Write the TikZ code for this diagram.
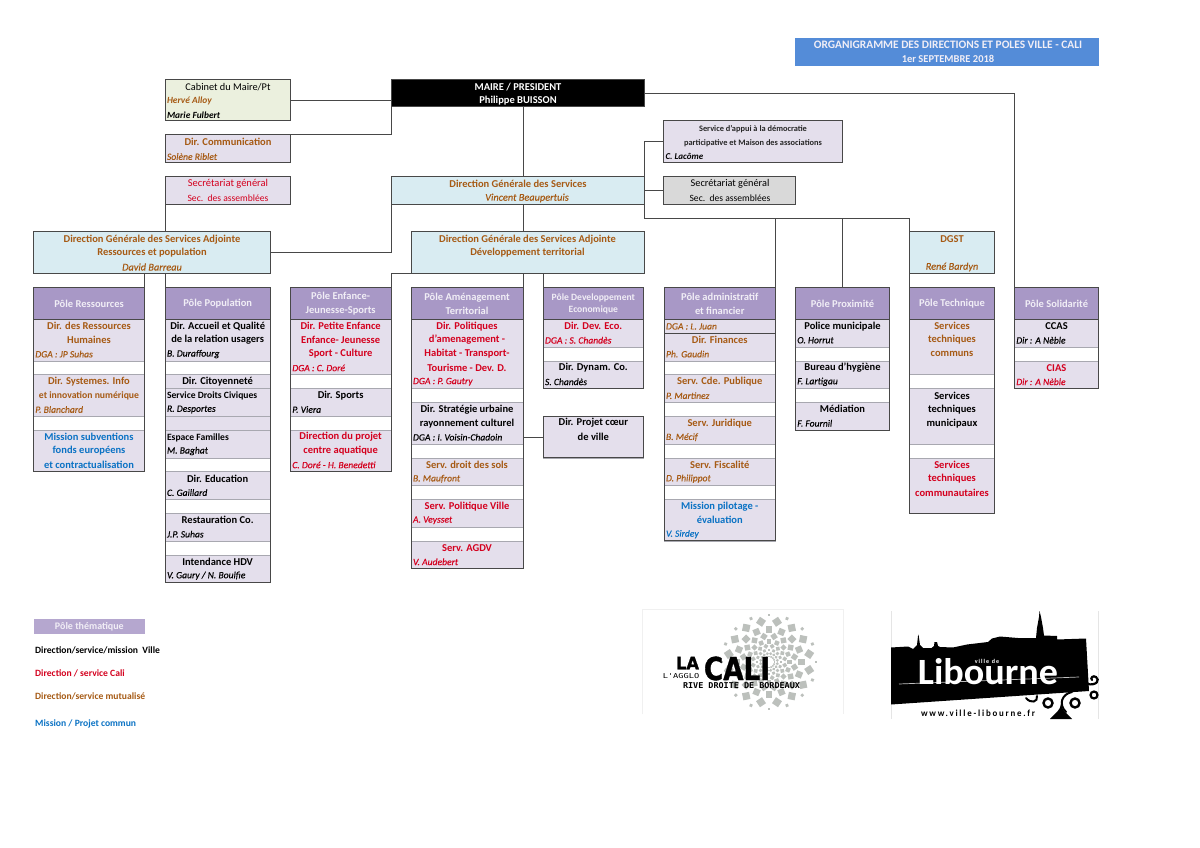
\documentclass[tikz,border=0pt]{standalone}
\usepackage{fontspec}
\usepackage{graphicx}
\setmainfont{Carlito}[ItalicFeatures={FakeBold=0.25}]
\newfontfamily\heavyfont[BoldFeatures={FakeBold=1.2}]{DejaVu Sans}
\newfontfamily\monofont{DejaVu Sans Mono}
\definecolor{cBr}{HTML}{A65A14}
\definecolor{cRd}{HTML}{D4001E}
\definecolor{cBl}{HTML}{0A72C4}
\definecolor{cLav}{HTML}{E4DFEC}
\definecolor{cHead}{HTML}{A898C6}
\definecolor{cPale}{HTML}{D9ECF2}
\definecolor{cCab}{HTML}{EBF0DE}
\definecolor{cGrey}{HTML}{D9D9D9}
\definecolor{cTitle}{HTML}{548CD8}
\definecolor{cLine}{HTML}{484848}
\definecolor{cSep}{HTML}{A8A8B0}
\definecolor{cDot}{HTML}{BCC0BC}
\definecolor{cHdTx}{HTML}{F1EEF6}
\newcounter{tn}
\tikzset{
  x=1pt,y=-1pt,
  boxn/.style={draw=cLine,line width=1pt,inner sep=0pt,outer sep=0pt,anchor=north west},
  conn/.style={draw=cLine,line width=1pt},
  ctx/.style={inner sep=0pt,outer sep=0pt,align=center,font=\bfseries\fontsize{10.5}{14}\selectfont},
  ltx/.style={inner sep=0pt,outer sep=0pt,anchor=west,font=\itshape\fontsize{9.6}{14}\selectfont},
  bix/.style={inner sep=0pt,outer sep=0pt,anchor=west,font=\bfseries\itshape\fontsize{9.4}{14}\selectfont},
  nmx/.style={inner sep=0pt,outer sep=0pt,align=center,font=\itshape\fontsize{10.3}{14}\selectfont},
  hdx/.style={inner sep=0pt,outer sep=0pt,align=center,text=cHdTx,font=\bfseries\fontsize{10.5}{14.3}\selectfont},
  sep/.style={draw=cSep,line width=.5pt},
}
\newcommand\setcol[2]{\def\xa{#1}\def\xb{#2}\pgfmathsetmacro\xc{(#1+#2)/2}\pgfmathsetmacro\wid{#2-#1}}
\newcommand\lav[2]{\fill[cLav] (\xa,{319.3+13.85*(#1)}) rectangle (\xb,{319.3+13.85*(#2)});
  \draw[sep] (\xa,{319.3+13.85*(#1)}) -- (\xb,{319.3+13.85*(#1)});
  \draw[sep] (\xa,{319.3+13.85*(#2)}) -- (\xb,{319.3+13.85*(#2)});}
\newcommand\colbox[2]{\pgfmathsetmacro\hh{13.85*(#2)+31.6}\node[boxn,minimum width=\wid pt,minimum height=\hh pt] (#1) at (\xa,287.7) {};}
\newcommand\hdbox[1]{\node[boxn,fill=cHead,minimum width=\wid pt,minimum height=31.6pt] (#1) at (\xa,287.7) {};}
\newcommand\hdtxt[2][]{\stepcounter{tn}\node[hdx,#1] (t\arabic{tn}) at (\xc,303.8) {#2};}
\newcommand\ct[4][]{\stepcounter{tn}\node[ctx,text=#3,#1] (t\arabic{tn}) at (\xc,{326.2+13.85*(#2)}) {#4};}
\newcommand\lt[4][]{\stepcounter{tn}\node[ltx,text=#3,#1] (t\arabic{tn}) at (\xa+2,{326.4+13.85*(#2)}) {#4};}
\newcommand\bx[6]{\pgfmathsetmacro\bw{#4-#2}\pgfmathsetmacro\bh{#5-#3}\node[boxn,fill=#6,minimum width=\bw pt,minimum height=\bh pt] (#1) at (#2,#3) {};}
\newcommand\tx[4][]{\stepcounter{tn}\node[ctx,#1] (t\arabic{tn}) at (#2,#3) {#4};}
\begin{document}
\begin{tikzpicture}
\useasboundingbox (0,0) rectangle (1200,848);
\fill[white] (0,0) rectangle (1200,848);
% title
\node[inner sep=0pt,outer sep=0pt,anchor=north west,fill=cTitle,minimum width=303.7pt,minimum height=27.7pt] (title) at (795.3,38) {};
\tx[text=cHdTx,font=\bfseries\fontsize{11.4}{14}\selectfont]{948}{45.3}{ORGANIGRAMME DES DIRECTIONS ET POLES VILLE - CALI}
\tx[text=cHdTx,font=\bfseries\fontsize{10.5}{14}\selectfont]{948}{59}{1er SEPTEMBRE 2018}
% upper boxes
\bx{cab}{165}{79.3}{290.3}{121}{cCab}
\bx{com}{165}{135}{290.3}{162.6}{cLav}
\bx{secl}{165}{176.5}{290.3}{204.2}{cLav}
\bx{maire}{391}{79.3}{644}{107}{black}
\bx{dgs}{391}{176.5}{644}{204.2}{cPale}
\bx{appui}{663.5}{121}{842.7}{162.6}{cLav}
\bx{secg}{663.5}{176.5}{795.7}{204.2}{cGrey}
\bx{dgar}{33.3}{231.8}{270.3}{273.4}{cPale}
\bx{dgad}{411}{231.8}{644}{273.4}{cPale}
\bx{dgst}{909.7}{231.8}{994.3}{273.4}{cPale}
% columns
\setcol{33.3}{144.7}\lav{0}{3}\lav{4}{7}\lav{8}{11}
\colbox{cRes}{11}\hdbox{hRes}
\setcol{165}{270.3}\lav{0}{3}\lav{4}{5}\lav{5}{7}\lav{7}{8}\lav{8}{10}\lav{11}{13}\lav{14}{16}\lav{17}{19}
\colbox{cPop}{19}\hdbox{hPop}
\setcol{290.3}{391}\lav{0}{4}\lav{5}{7}\lav{8}{11}
\colbox{cEnf}{11}\hdbox{hEnf}
\setcol{411}{523}\lav{0}{5}\lav{6}{9}\lav{10}{12}\lav{13}{15}\lav{16}{18}
\colbox{cAme}{18}\hdbox{hAme}
\setcol{543}{643.7}\lav{0}{2}\lav{3}{5}\lav{7}{10}
\colbox{cDev}{5}\hdbox{hDev}
\pgfmathsetmacro\hh{13.85*3}\node[boxn,minimum width=\wid pt,minimum height=\hh pt] (cProj) at (\xa,{319.3+13.85*7}) {};
\setcol{664}{775.5}\lav{0}{1}\lav{1}{3}\lav{4}{6}\lav{7}{9}\lav{10}{12}\lav{13}{16}
\colbox{cAdm}{16}\hdbox{hAdm}
\draw[conn] (\xa,333.15) -- (\xb,333.15);
\setcol{795.3}{889.7}\lav{0}{2}\lav{3}{5}\lav{6}{8}
\colbox{cPrx}{8}\hdbox{hPrx}
\setcol{909.7}{994.3}\lav{0}{4}\lav{5}{9}\lav{10}{14}
\colbox{cTec}{14}\hdbox{hTec}
\setcol{1014.3}{1098.7}\lav{0}{2}\lav{3}{5}
\colbox{cSol}{5}\hdbox{hSol}
% connectors
\draw[conn] (cab.east) -- (cab.east -| maire.west);
\draw[conn] (com.north east) -- (com.north east -| maire.south west) -- (maire.south west);
\draw[conn] (maire.south -| cAme.east) -- (dgs.north -| cAme.east);
\draw[conn] (dgs.south -| cAme.east) -- (dgad.north -| cAme.east);
\draw[conn] (maire.east) -- (maire.east -| hSol.north west) -- (hSol.north west);
\draw[conn] (secl.south west) -- (secl.south west |- dgar.north);
\draw[conn] (dgs.south west) -- (dgs.south west |- dgar.east) -- (dgar.east);
\draw[conn] (dgar.south -| hRes.north east) -- (hRes.north east);
\draw[conn] (dgar.south -| hPop.north west) -- (hPop.north west);
\draw[conn] (dgad.south west) -- (dgad.south west -| hEnf.north east) -- (hEnf.north east);
\draw[conn] (dgad.south -| hAme.north east) -- (hAme.north east);
\draw[conn] (dgad.south -| hDev.north west) -- (hDev.north west);
\draw[conn] (cProj.west) -- (cProj.west -| cAme.east);
\coordinate (busa) at (644,218);
\draw[conn] (dgs.north east) -- (busa);
\draw[conn] (appui.west) -- (appui.west -| maire.south east) -- (maire.south east |- dgs.north);
\draw[conn] (secg.west) -- (secg.west -| dgs.east);
\draw[conn] (busa) -- (busa -| dgst.north west) -- (dgst.north west);
\draw[conn] (busa -| hAdm.north east) -- (hAdm.north east);
\draw[conn] (busa -| hPrx.north) -- (hPrx.north);
\draw[conn] (dgst.south west) -- (hTec.north west);
% top texts
\tx[font=\fontsize{10.3}{14}\selectfont]{228}{86.7}{Cabinet du Maire/Pt}
\stepcounter{tn}\node[bix,text=cBr] (t\arabic{tn}) at (167,101.2) {Hervé Alloy};
\stepcounter{tn}\node[bix] (t\arabic{tn}) at (167,115) {Marie Fulbert};
\tx[text=cBr]{228}{142.2}{Dir. Communication}
\stepcounter{tn}\node[ltx,text=cBr] (t\arabic{tn}) at (167,156.6) {Solène Riblet};
\tx[text=cRd,font=\fontsize{10.5}{14}\selectfont]{228}{184}{Secrétariat général}
\tx[text=cRd,font=\fontsize{9.6}{14}\selectfont]{228}{198}{Sec.\ \ des assemblées}
\tx[text=white]{518}{86.7}{MAIRE / PRESIDENT}
\tx[text=white]{518}{101}{Philippe BUISSON}
\tx[text=cBr]{518}{184}{Direction Générale des Services}
\stepcounter{tn}\node[nmx,text=cBr] (t\arabic{tn}) at (527,198) {Vincent Beaupertuis};
\tx[font=\bfseries\fontsize{8.35}{14}\selectfont,text=black!85]{753}{129}{Service d'appui à la démocratie}
\tx[font=\bfseries\fontsize{8.35}{14}\selectfont,text=black!85]{753}{143}{participative et Maison des associations}
\stepcounter{tn}\node[bix,font=\bfseries\itshape\fontsize{9}{14}\selectfont] (t\arabic{tn}) at (665.5,156.8) {C. Lacôme};
\tx[font=\fontsize{10.3}{14}\selectfont]{730}{184}{Secrétariat général}
\tx[font=\fontsize{9.6}{14}\selectfont]{730}{198}{Sec.\ \ des assemblées}
\tx[text=cBr]{152}{239.2}{Direction Générale des Services Adjointe}
\tx[text=cBr]{152}{253}{Ressources et population}
\stepcounter{tn}\node[nmx,text=cBr] (t\arabic{tn}) at (152,267) {David Barreau};
\tx[text=cBr]{527.5}{239.2}{Direction Générale des Services Adjointe}
\tx[text=cBr]{527.5}{253}{Développement territorial}
\tx[text=cBr]{952}{239.2}{DGST}
\stepcounter{tn}\node[nmx,text=cBr] (t\arabic{tn}) at (952,267) {René Bardyn};
% column texts
\setcol{33.3}{144.7}
\hdtxt{Pôle Ressources}
\ct{0}{cBr}{Dir. des Ressources}\ct{1}{cBr}{Humaines}\lt{2}{cBr}{DGA : JP Suhas}
\ct{4}{cBr}{Dir. Systemes. Info}\ct[font=\bfseries\fontsize{9.7}{14}\selectfont]{5}{cBr}{et innovation numérique}\lt{6}{cBr}{P. Blanchard}
\ct{8}{cBl}{Mission subventions}\ct{9}{cBl}{fonds européens}\ct{10}{cBl}{et contractualisation}
\setcol{165}{270.3}
\hdtxt{Pôle Population}
\ct{0}{black}{Dir. Accueil et Qualité}\ct{1}{black}{de la relation usagers}\lt{2}{black}{B. Duraffourg}
\ct{4}{black}{Dir. Citoyenneté}
\stepcounter{tn}\node[ltx,text=black,font=\bfseries\fontsize{9.6}{14}\selectfont] (t\arabic{tn}) at (167,395.8) {Service Droits Civiques};
\lt{6}{black}{R. Desportes}
\stepcounter{tn}\node[ltx,text=black,font=\bfseries\fontsize{9.6}{14}\selectfont] (t\arabic{tn}) at (167,437.5) {Espace Familles};
\lt{9}{black}{M. Baghat}
\ct{11}{black}{Dir. Education}\lt{12}{black}{C. Gaillard}
\ct{14}{black}{Restauration Co.}\lt{15}{black}{J.P. Suhas}
\ct{17}{black}{Intendance HDV}\lt{18}{black}{V. Gaury / N. Boulfie}
\setcol{290.3}{391}
\hdtxt{Pôle Enfance-\\Jeunesse-Sports}
\ct{0}{cRd}{Dir. Petite Enfance}\ct{1}{cRd}{Enfance- Jeunesse}\ct{2}{cRd}{Sport - Culture}\lt{3}{cRd}{DGA : C. Doré}
\ct{5}{black}{Dir. Sports}\lt{6}{black}{P. Viera}
\ct{8}{cRd}{Direction du projet}\ct{9}{cRd}{centre aquatique}\lt{10}{cRd}{C. Doré - H. Benedetti}
\setcol{411}{523}
\hdtxt{Pôle Aménagement\\Territorial}
\ct{0}{cRd}{Dir. Politiques}\ct{1}{cRd}{d'amenagement -}\ct{2}{cRd}{Habitat - Transport-}\ct{3}{cRd}{Tourisme - Dev. D.}\lt{4}{cRd}{DGA : P. Gautry}
\ct{6}{black}{Dir. Stratégie urbaine}\ct{7}{black}{rayonnement culturel}\lt{8}{black}{DGA : I. Voisin-Chadoin}
\ct{10}{cBr}{Serv. droit des sols}\lt{11}{cBr}{B. Maufront}
\ct{13}{cRd}{Serv. Politique Ville}\lt{14}{cRd}{A. Veysset}
\ct{16}{cRd}{Serv. AGDV}\lt{17}{cRd}{V. Audebert}
\setcol{543}{643.7}
\hdtxt[font=\bfseries\fontsize{9.6}{12.4}\selectfont]{Pôle Developpement\\Economique}
\ct{0}{cRd}{Dir. Dev. Eco.}\lt{1}{cRd}{DGA : S. Chandès}
\ct{3}{black}{Dir. Dynam. Co.}\lt{4}{black}{S. Chandès}
\ct{7}{black}{Dir. Projet cœur}\ct{8}{black}{de ville}
\setcol{664}{775.5}
\hdtxt{Pôle administratif\\et financier}
\lt{0}{cBr}{DGA : L. Juan}
\ct{1}{cBr}{Dir. Finances}\lt{2}{cBr}{Ph. Gaudin}
\ct{4}{cBr}{Serv. Cde. Publique}\lt{5}{cBr}{P. Martinez}
\ct{7}{cBr}{Serv. Juridique}\lt{8}{cBr}{B. Mécif}
\ct{10}{cBr}{Serv. Fiscalité}\lt{11}{cBr}{D. Philippot}
\ct{13}{cBl}{Mission pilotage -}\ct{14}{cBl}{évaluation}\lt{15}{cBl}{V. Sirdey}
\setcol{795.3}{889.7}
\hdtxt{Pôle Proximité}
\ct{0}{black}{Police municipale}\lt{1}{black}{O. Horrut}
\ct{3}{black}{Bureau d'hygiène}\lt{4}{black}{F. Lartigau}
\ct{6}{black}{Médiation}\lt{7}{black}{F. Fournil}
\setcol{909.7}{994.3}
\hdtxt{Pôle Technique}
\ct{0}{cBr}{Services}\ct{1}{cBr}{techniques}\ct{2}{cBr}{communs}
\ct{5}{black}{Services}\ct{6}{black}{techniques}\ct{7}{black}{municipaux}
\ct{10}{cRd}{Services}\ct{11}{cRd}{techniques}\ct{12}{cRd}{communautaires}
\setcol{1014.3}{1098.7}
\hdtxt{Pôle Solidarité}
\ct{0}{black}{CCAS}\lt{1}{black}{Dir : A Nèble}
\ct{3}{cRd}{CIAS}\lt{4}{cRd}{Dir : A Nèble}
% legend
\node[inner sep=0pt,outer sep=0pt,anchor=north west,fill=cHead!85,minimum width=111.3pt,minimum height=14.7pt,font=\bfseries\fontsize{10}{12}\selectfont,text=cHdTx] (legp) at (33.7,619) {Pôle thématique};
\node[inner sep=0pt,anchor=west,font=\bfseries\fontsize{9.6}{12}\selectfont,text=black] (leg1) at (35,650.3) {Direction/service/mission\ \ Ville};
\node[inner sep=0pt,anchor=west,font=\bfseries\fontsize{9.6}{12}\selectfont,text=cRd] (leg2) at (35,673) {Direction / service Cali};
\node[inner sep=0pt,anchor=west,font=\bfseries\fontsize{9.6}{12}\selectfont,text=cBr] (leg3) at (35,696) {Direction/service mutualisé};
\node[inner sep=0pt,anchor=west,font=\bfseries\fontsize{9.6}{12}\selectfont,text=cBl] (leg4) at (35,724) {Mission / Projet commun};
% CALI logo
\draw[black!6,line width=.5pt] (642,714) -- (642,609) -- (843,609) -- (843,714);
\foreach \r/\s/\o in {47/1.4/0,41/3.6/.5,32.5/3.2/0,26/2.7/.5,20.5/2.2/0,16/1.8/.5,12/1.4/0,8.5/1.1/.5,5.5/.8/0}{
  \foreach \i in {0,...,15}{
    \pgfmathsetmacro\ang{(\i+\o)*22.5}
    \fill[cDot,shift={({769+\r*cos(\ang)},{662+\r*sin(\ang)})},rotate=3*\ang] (-\s,-\s) rectangle (\s,\s);
  }
}
\node[inner sep=0pt,anchor=center] (calila) at (687.5,663) {\resizebox{23pt}{12.5pt}{\heavyfont\bfseries LA}};
\node[inner sep=0pt,anchor=center] (calicali) at (737,668.5) {\resizebox{66pt}{23.5pt}{\heavyfont\bfseries CALI}};
\node[inner sep=0pt,anchor=center] (calia) at (681,676.5) {\resizebox{36.5pt}{5pt}{\monofont L'AGGLO}};
\node[inner sep=0pt,anchor=center] (calir) at (741.5,686) {\resizebox{117pt}{6pt}{\monofont\bfseries RIVE DROITE DE BORDEAUX}};
% Libourne logo
\draw[black!10,line width=.5pt] (891,611) -- (891,719);
\draw[black!10,line width=.5pt] (1098,611) -- (1098,719);
\fill[black] (891,647.5) -- (908,646.5) -- (913,649) -- (917,645) -- (918,636) -- (918.5,634.5) -- (920,645) -- (923,648) -- (931.5,648) -- (934,646) -- (934.5,642) -- (937,642) -- (938,646) -- (940,647) -- (953,647.5) -- (967,644.5) -- (988,642) -- (992,638.5) -- (1000,636.5) -- (1018,638) -- (1036,638) -- (1037,628) -- (1039,617) -- (1039.5,611) -- (1041,617) -- (1043,628) -- (1044,635.5) -- (1057,636) -- (1057,639.5) -- (1086,638.5) -- (1089,691) -- (891,704.5) -- cycle;
\draw[white!75!black,line width=.7pt] (899,684) -- (1079,677);
\node[inner sep=0pt,text=white] (libm) at (988,671.2) {\resizebox{140pt}{26pt}{\bfseries Libourne}};
\node[inner sep=0pt,text=white,font=\bfseries\fontsize{6}{8}\selectfont] (libv) at (987,661.5) {v\,i\,l\,l\,e\ \ d\,e};
\node[inner sep=0pt,text=black] (libw) at (978,713.5) {\resizebox{114pt}{6.5pt}{\bfseries\addfontfeatures{LetterSpace=20}www.ville-libourne.fr}};
% swirls
\draw[black,line width=2pt,line cap=round] (1026,698) .. controls (1031,704) and (1038,702) .. (1037,696);
\draw[black,line width=2.4pt] (1048,703) circle[radius=4.5];
\draw[black,line width=2.4pt] (1075,703) circle[radius=4.5];
\draw[black,line width=2pt,line cap=round] (1066,712) .. controls (1058,704) and (1062,694) .. (1072,692);
\draw[black,line width=2.2pt,line cap=round] (1087,684) .. controls (1097,686) and (1100,680) .. (1096,677) .. controls (1093,675) and (1090,678) .. (1092,680);
\draw[black,line width=2.2pt] (1094,695) circle[radius=3.5];
\fill[black] (1050,719) .. controls (1056,712) and (1060,711) .. (1061,704) .. controls (1062,711) and (1066,712) .. (1072,719) -- cycle;
\end{tikzpicture}
\end{document}
